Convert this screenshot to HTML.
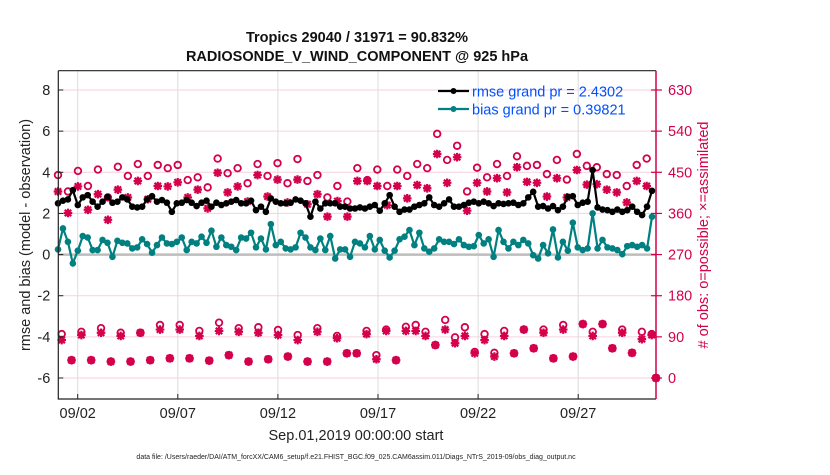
<!DOCTYPE html>
<html><head><meta charset="utf-8"><style>
body{margin:0;background:#fff;}
svg text{font-family:"Liberation Sans",Arial,sans-serif;}
</style></head><body>
<svg id="chart" width="830" height="470" viewBox="0 0 830 470" xmlns="http://www.w3.org/2000/svg">
<rect width="830" height="470" fill="#fff"/>
<g id="grid"></g>
<g id="marks"></g>
<g id="axes"></g>
</svg>
<script>
const xTickLabels=["09/02","09/07","09/12","09/17","09/22","09/27"];
const xTickDays=[1,6,11,16,21,26];
const yLeftTicks=[-6,-4,-2,0,2,4,6,8];
const yRightTicks=[0,90,180,270,360,450,540,630];
const rmse=[2.49,2.62,2.68,3.13,2.41,2.78,2.89,2.57,2.33,2.57,2.81,2.52,2.57,2.78,2.68,2.33,2.29,2.33,2.68,2.84,2.57,2.65,2.52,2.08,2.49,2.52,2.65,2.52,2.36,2.52,2.62,
2.33,2.52,2.41,2.49,2.57,2.65,2.49,2.49,2.62,2.16,2.33,2.08,2.73,2.57,2.49,2.49,2.52,2.68,2.62,2.49,1.84,2.57,2.24,2.49,2.49,2.49,2.33,2.33,2.24,2.24,
2.29,2.24,2.33,2.41,2.13,2.49,2.89,2.33,2.08,2.19,2.19,2.33,2.41,2.49,2.78,2.41,2.33,2.49,2.68,2.33,2.33,2.41,2.52,2.57,2.49,2.57,2.49,2.36,2.49,2.46,
2.49,2.52,2.41,2.49,2.78,3.05,2.33,2.36,2.24,2.36,2.16,2.33,2.81,2.84,2.41,2.52,2.57,4.11,2.29,2.19,2.16,2.08,2.19,2.08,2.16,2.33,2.08,1.92,2.33,3.1];
const bias=[0.25,1.27,0.62,-0.43,0.19,0.9,0.83,0.22,0.22,0.71,0.57,-0.11,0.67,0.57,0.54,0.3,0.35,0.74,0.51,0.09,0.46,0.83,0.54,0.51,0.62,0.83,0.22,0.62,0.54,0.87,0.57,
1.16,0.38,0.83,0.46,0.38,0.22,0.83,0.78,1.06,0.35,0.78,0.25,1.48,0.46,0.62,0.3,0.25,0.35,1.06,0.83,0.35,0.22,0.78,0.22,0.9,-0.19,0.25,0.25,-0.11,0.62,
0.54,0.35,0.9,0.25,0.71,0.19,-0.14,0.19,0.74,0.87,1.19,0.46,1.06,0.3,0.14,0.3,0.74,0.62,0.62,0.51,0.74,0.46,0.38,0.41,0.95,0.54,0.74,-0.11,1.19,0.62,
0.3,0.62,0.46,0.71,0.54,-0.03,-0.19,0.46,0.06,1.22,-0.14,0.62,0.19,1.55,0.35,0.22,0.3,2.0,0.3,0.71,0.35,0.3,0.22,0.02,0.41,0.46,0.38,0.46,0.3,1.84];
const possTop=[444,408,453,420,456,395,462,442,468,442,466,459,466,433,439,417,480,448,459,426,468,442,470,426,479,431,444,395,420,386,459,
433,456,420,456,442,468,459,534,477,508,408,460,439,468,442,485,464,466,446,477,434,490,464,461,446,444,420,466,480];
const assimTop=[408,361,419,368,402,346,412,395,431,391,420,419,428,395,412,371,449,406,419,386,444,397,434,384,434,380,402,353,387,353,431,
431,420,378,420,393,422,415,490,427,483,366,427,408,437,406,461,429,427,397,437,395,455,423,424,412,406,384,431,420];
const possBot=[96,39,101,39,109,36,99,36,99,39,116,43,116,43,103,38,121,50,109,36,111,41,105,47,94,36,109,36,92,54,
54,103,50,106,39,112,116,101,72,127,89,111,57,96,55,103,54,106,65,106,43,116,47,118,101,118,65,106,55,101,96,0];
const assimBot=[83,39,94,39,99,36,92,36,99,39,106,43,106,43,92,38,103,50,101,36,99,41,94,47,83,36,101,36,87,54,
54,96,41,103,39,103,103,92,72,106,76,92,54,83,47,92,54,106,65,99,43,106,47,118,92,118,65,99,55,85,94,0];

const L=58.3,R=656,T=70.7,B=399;
const NS="http://www.w3.org/2000/svg";
function yL(v){return 378-(v+6)*20.571;}
function yR(v){return 378-v*288/630;}
function xDay(d){return 77.7+(d-1)*20.02;}
function xLine(i,n){return 58+i*(594/(n-1));}
function xTop(i,n){return 58+i*(588.7/(n-1));}
function xBot(i,n){return i===n-1?656:61.7+i*(590/(n-2));}
function el(tag,attrs,parent,txt){const e=document.createElementNS(NS,tag);for(const k in attrs)e.setAttribute(k,attrs[k]);if(txt!==undefined)e.textContent=txt;parent.appendChild(e);return e;}
const grid=document.getElementById('grid'),marks=document.getElementById('marks'),axes=document.getElementById('axes');
const CR="#d4004c",TEAL="#008080";
yRightTicks.forEach(v=>{const g=el('line',{x1:L,x2:R,y1:yR(v),y2:yR(v),stroke:"#f6d2de","stroke-width":1},grid);

});
xTickDays.forEach(d=>{const g=el('line',{x1:xDay(d),x2:xDay(d),y1:T,y2:B,stroke:"#dcdcdc","stroke-width":1},grid);

});
const z=el('line',{x1:L,x2:R,y1:yL(0),y2:yL(0),stroke:"#bdbdbd","stroke-width":2.5},grid);



function circ(x,y,name){const c=el('circle',{cx:x,cy:y,r:3.3,fill:"none",stroke:CR,"stroke-width":1.8},marks);

}
function star(x,y,name){const s=4.3,d=3.2;const p=el('path',{d:`M${x-s},${y}H${x+s}M${x},${y-s}V${y+s}M${x-d},${y-d}L${x+d},${y+d}M${x-d},${y+d}L${x+d},${y-d}`,stroke:CR,"stroke-width":2.2,fill:"none"},marks);

}
possTop.forEach((v,i)=>circ(xTop(i,possTop.length),yR(v),'obs-possible-point'));
assimTop.forEach((v,i)=>star(xTop(i,assimTop.length),yR(v),'obs-assimilated-point'));
possBot.forEach((v,i)=>circ(xBot(i,possBot.length),yR(v),'obs-possible-point'));
assimBot.forEach((v,i)=>star(xBot(i,assimBot.length),yR(v),'obs-assimilated-point'));

function series(arr,color,name){
 const pts=arr.map((v,i)=>xLine(i,arr.length).toFixed(1)+","+yL(v).toFixed(1)).join(" ");
 const pl=el('polyline',{points:pts,fill:"none",stroke:color,"stroke-width":2.2},marks);
 
 
 arr.forEach((v,i)=>{const c=el('circle',{cx:xLine(i,arr.length),cy:yL(v),r:3.3,fill:color},marks);
 
 });
}
series(rmse,"#000","rmse");
series(bias,TEAL,"bias");

let a=el('path',{d:`M${L},${T}H${R}M${L},${T}V${B}H${R}`,stroke:"#222","stroke-width":1.2,fill:"none"},axes);


a=el('line',{x1:R,x2:R,y1:T,y2:B,stroke:CR,"stroke-width":1.5},axes);


yLeftTicks.forEach(v=>{el('line',{x1:L,x2:L+5,y1:yL(v),y2:yL(v),stroke:"#222"},axes);
const t=el('text',{x:L-8,y:yL(v)+5,"font-size":14.5,"text-anchor":"end",fill:"#222"},axes,String(v));

});
yRightTicks.forEach(v=>{el('line',{x1:R-5,x2:R+6,y1:yR(v),y2:yR(v),stroke:CR,"stroke-width":1.2},axes);
const t=el('text',{x:R+12,y:yR(v)+5,"font-size":14.5,fill:CR},axes,String(v));

});
xTickDays.forEach((d,i)=>{el('line',{x1:xDay(d),x2:xDay(d),y1:B,y2:B-5,stroke:"#222"},axes);
const t=el('text',{x:xDay(d),y:418,"font-size":14.5,"text-anchor":"middle",fill:"#222"},axes,xTickLabels[i]);

});
</script>
<svg style="position:absolute;left:0;top:0" width="830" height="470">
<text x="357" y="42" font-size="14.5" font-weight="bold" text-anchor="middle" fill="#111">Tropics 29040 / 31971 = 90.832%</text>
<text x="357" y="61" font-size="14.5" font-weight="bold" text-anchor="middle" fill="#111">RADIOSONDE_V_WIND_COMPONENT @ 925 hPa</text>
<text transform="translate(30,235) rotate(-90)" font-size="14.5" text-anchor="middle" fill="#222">rmse and bias (model - observation)</text>
<text transform="translate(708,235) rotate(-90)" font-size="14.5" text-anchor="middle" fill="#d4004c"># of obs: o=possible; ×=assimilated</text>
<text x="356" y="440" font-size="14.5" text-anchor="middle" fill="#222">Sep.01,2019 00:00:00 start</text>
<text x="356" y="459" font-size="7" text-anchor="middle" fill="#222">data file: /Users/raeder/DAI/ATM_forcXX/CAM6_setup/f.e21.FHIST_BGC.f09_025.CAM6assim.011/Diags_NTrS_2019-09/obs_diag_output.nc</text>
<g>
<line x1="438" x2="469" y1="91" y2="91" stroke="#000" stroke-width="2.2"/><circle cx="453.5" cy="91" r="3" fill="#000"/>
<text x="472" y="96.5" font-size="14.5" fill="#0050ff">rmse grand pr = 2.4302</text></g>
<g>
<line x1="438" x2="469" y1="109" y2="109" stroke="#008080" stroke-width="2.2"/><circle cx="453.5" cy="109" r="3" fill="#008080"/>
<text x="472" y="114.5" font-size="14.5" fill="#0050ff">bias grand pr = 0.39821</text></g>
</svg>
</body></html>
